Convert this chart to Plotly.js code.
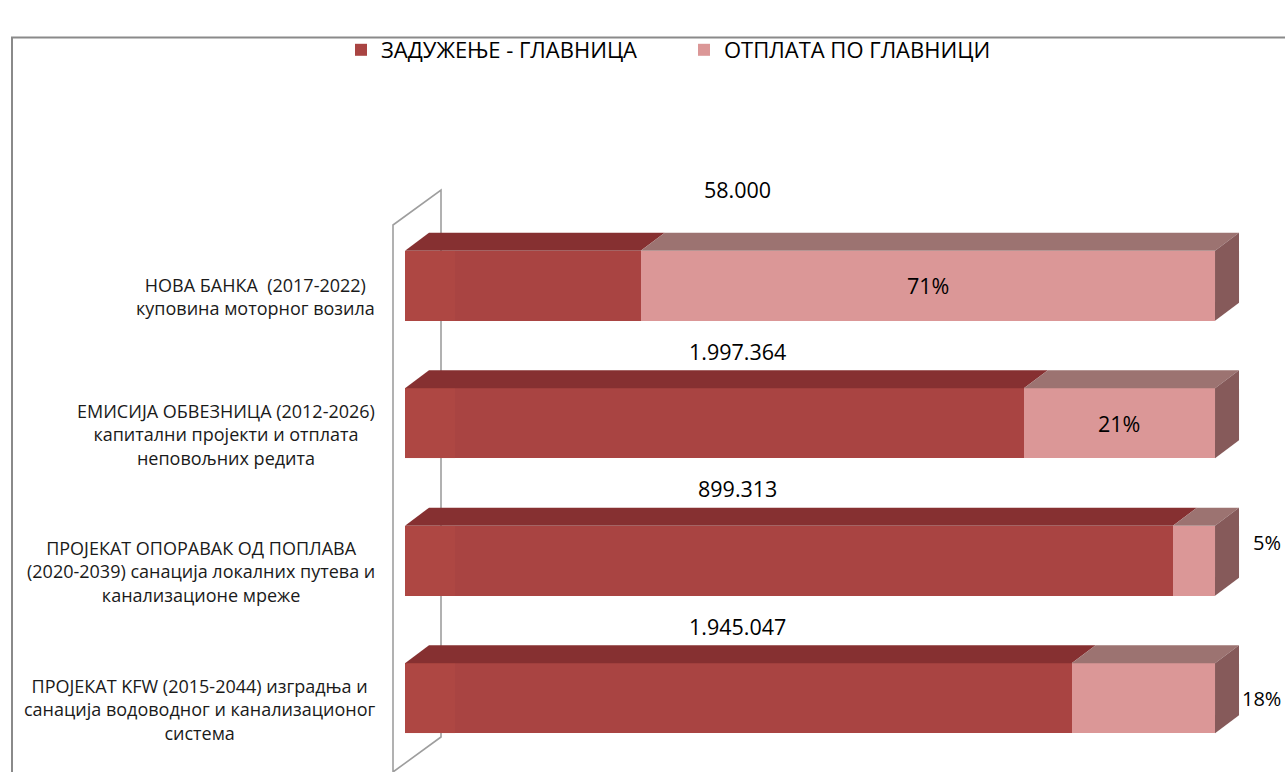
<!DOCTYPE html>
<html>
<head>
<meta charset="utf-8">
<script src="https://cdn.plot.ly/plotly-3.0.1.min.js"></script>
<style>
  html, body { margin: 0; padding: 0; background: #ffffff; }
  #chart { width: 1285px; height: 772px; }
</style>
</head>
<body>
<div id="chart"></div>
<script>
// ---------------- DATA ----------------
const categories = [
  'НОВА БАНКА  (2017-2022)<br>куповина моторног возила',
  'ЕМИСИЈА ОБВЕЗНИЦА (2012-2026)<br>капитални пројекти и отплата<br>неповољних редита',
  'ПРОЈЕКАТ ОПОРАВАК ОД ПОПЛАВА<br>(2020-2039) санација локалних путева и<br>канализационе мреже',
  'ПРОЈЕКАТ KFW (2015-2044) изградња и<br>санација водоводног и канализационог<br>система'
];
const seriesNames = ['ЗАДУЖЕЊЕ - ГЛАВНИЦА', 'ОТПЛАТА ПО ГЛАВНИЦИ'];
const debtShare   = [29.1, 76.4, 94.8, 82.3];   // share of bar, %
const repaidShare = [70.9, 23.6, 5.2, 17.7];    // share of bar, %
const debtAmountLabels = ['58.000', '1.997.364', '899.313', '1.945.047'];
const repaidPctLabels  = ['71%', '21%', '5%', '18%'];

// ---------------- STYLE / LAYOUT CONSTANTS ----------------
const W = 1285, H = 772;
const M = { l: 405, r: 40, t: 217, b: 5 };
const X_MAX = 103.7;
const BAR_W = 0.51;
const DEPTH_PX = { dx: 24, dy: 18 };
const COL = {
  debtFront: '#A94442', debtTop: '#863031',
  payFront: '#DB9797', payTop: '#9C7371', side: '#865A5A'
};
const FONT = 'Open Sans, Noto Sans, sans-serif';
// label offsets (pixels)
const amountYShift = [96, 72, 72, 72];
const pctPlacement = [
  { out: false, dx: 0, dy: 0 },
  { out: false, dx: 0, dy: 0 },
  { out: true, dx: 36, dy: 18 },
  { out: true, dx: 25, dy: 0 }
];

const plotW = W - M.l - M.r, plotH = H - M.t - M.b;
const yIdx = categories.map((_, i) => i);
const xUnitPx = plotW / X_MAX;
const yUnitPx = plotH / categories.length;
const ddx = DEPTH_PX.dx / xUnitPx;
const ddy = DEPTH_PX.dy / yUnitPx;
const px2paperX = px => (px - M.l) / plotW;
const px2paperY = py => 1 - (py - M.t) / plotH;

const traces = [];
traces.push({
  type: 'bar', orientation: 'h', name: seriesNames[0],
  y: yIdx, x: debtShare, width: BAR_W,
  marker: { color: COL.debtFront, line: { width: 0 } },
  hoverinfo: 'skip'
});
traces.push({
  type: 'bar', orientation: 'h', name: seriesNames[1],
  y: yIdx, x: repaidShare, width: BAR_W,
  marker: { color: COL.payFront, line: { width: 0 } },
  hoverinfo: 'skip'
});

function poly(xs, ys, color) {
  traces.push({
    type: 'scatter', mode: 'lines', x: xs.concat([xs[0]]), y: ys.concat([ys[0]]),
    fill: 'toself', fillcolor: color, line: { width: 0, color: color },
    showlegend: false, hoverinfo: 'skip'
  });
}

const shapes = [];
const bandW = 50 / xUnitPx;   // light panel at the left of each bar (3D lighting)
yIdx.forEach(i => {
  const yt = i - BAR_W / 2, yb = i + BAR_W / 2;
  const d0 = 0, d1 = debtShare[i], p1 = debtShare[i] + repaidShare[i];
  // top faces
  poly([d0, d1, d1 + ddx, d0 + ddx], [yt, yt, yt - ddy, yt - ddy], COL.debtTop);
  poly([d1, p1, p1 + ddx, d1 + ddx], [yt, yt, yt - ddy, yt - ddy], COL.payTop);
  // right side face
  poly([p1, p1 + ddx, p1 + ddx, p1], [yt, yt - ddy, yb - ddy, yb], COL.side);
  shapes.push({
    type: 'rect', xref: 'x', yref: 'y', layer: 'above',
    x0: 0, x1: bandW, y0: yt, y1: yb,
    fillcolor: 'rgba(200,90,70,0.18)', line: { width: 0 }
  });
});

const annotations = [];
yIdx.forEach(i => {
  annotations.push({
    xref: 'paper', yref: 'y', x: px2paperX(377), y: i, yshift: -11,
    xanchor: 'right', yanchor: 'middle', align: 'center', showarrow: false,
    text: categories[i], font: { family: FONT, size: 18, color: '#1a1a1a' }
  });
  annotations.push({
    xref: 'x', yref: 'y', x: 41, y: i, yshift: amountYShift[i],
    xanchor: 'center', yanchor: 'middle', showarrow: false,
    text: debtAmountLabels[i], font: { family: FONT, size: 21.5, color: '#000' }
  });
  const pl = pctPlacement[i];
  const end = debtShare[i] + repaidShare[i];
  annotations.push({
    xref: 'x', yref: 'y',
    x: pl.out ? end : debtShare[i] + repaidShare[i] / 2,
    y: i, xshift: pl.dx, yshift: pl.dy,
    xanchor: pl.out ? 'left' : 'center', yanchor: 'middle', showarrow: false,
    text: repaidPctLabels[i],
    font: { family: FONT, size: pl.out ? 20 : 21.5, color: '#000' }
  });
});

const fx = px2paperX(393), bx = px2paperX(441);
const wallPath = 'M' + fx + ',' + px2paperY(800) +
  ' L' + fx + ',' + px2paperY(225) +
  ' L' + bx + ',' + px2paperY(190) +
  ' L' + bx + ',' + px2paperY(737) +
  ' L' + fx + ',' + px2paperY(772);

shapes.push(
  { type: 'rect', xref: 'paper', yref: 'paper', layer: 'below',
    x0: px2paperX(12), x1: px2paperX(1300), y0: px2paperY(800), y1: px2paperY(37.5),
    line: { color: '#8a8a8a', width: 2 }, fillcolor: 'rgba(0,0,0,0)' },
  { type: 'path', xref: 'paper', yref: 'paper', layer: 'below', path: wallPath,
    line: { color: '#9e9e9e', width: 1.6 } }
);

const layout = {
  width: W, height: H,
  margin: M,
  paper_bgcolor: '#ffffff', plot_bgcolor: 'rgba(0,0,0,0)',
  barmode: 'stack', bargap: 0.49,
  showlegend: true,
  legend: {
    orientation: 'h', x: px2paperX(341), xanchor: 'left',
    y: px2paperY(50), yanchor: 'middle',
    font: { family: FONT, size: 22, color: '#000' },
    entrywidth: 298, entrywidthmode: 'pixels',
    traceorder: 'normal', bgcolor: 'rgba(0,0,0,0)'
  },
  xaxis: { range: [0, X_MAX], visible: false, fixedrange: true },
  yaxis: { range: [categories.length - 0.5, -0.5], visible: false, fixedrange: true },
  annotations: annotations,
  shapes: shapes,
  font: { family: FONT }
};

Plotly.newPlot('chart', traces, layout, { displayModeBar: false, staticPlot: true });
</script>
</body>
</html>
